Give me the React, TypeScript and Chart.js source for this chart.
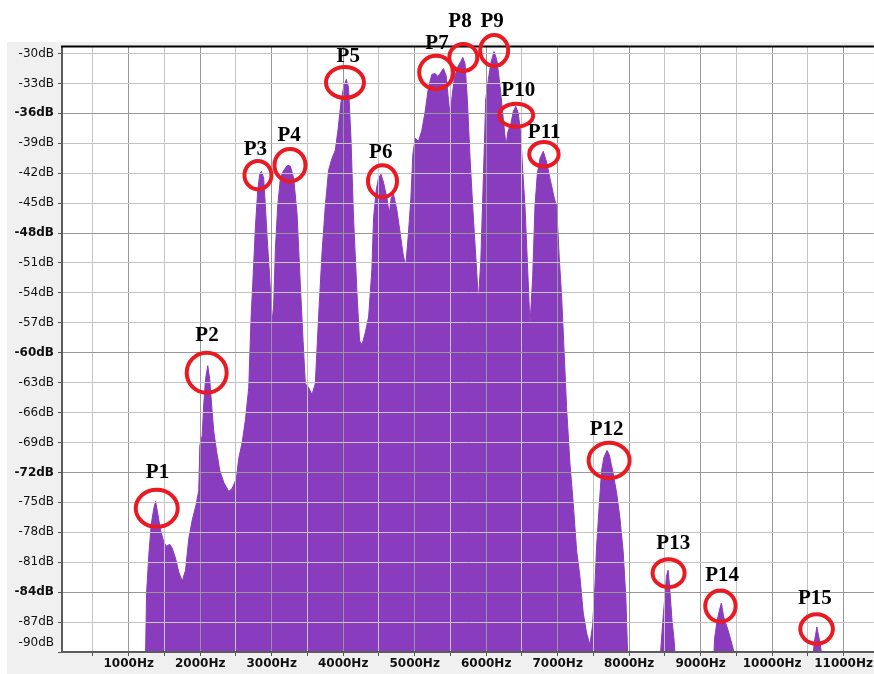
import React, { useEffect, useRef } from 'react';
import { Chart, registerables } from 'chart.js';

Chart.register(...registerables);

// Spectrum trace: frequency (Hz) and level (dB)
const freqHz = [
  1236, 1250, 1282, 1315, 1352, 1376, 1408, 1446, 1492, 1529, 1575, 1609, 1655, 1701, 1749, 1795, 1841, 1888, 1944, 1980,
  1995, 2028, 2050, 2074, 2106, 2134, 2158, 2190, 2228, 2274, 2330, 2400, 2447, 2507, 2539, 2587, 2633, 2679, 2712, 2740,
  2773, 2805, 2833, 2856, 2888, 2912, 2936, 2972, 3006, 3028, 3052, 3084, 3122, 3168, 3224, 3262, 3308, 3355, 3401, 3439,
  3471, 3517, 3564, 3610, 3656, 3704, 3750, 3796, 3844, 3890, 3927, 3969, 4006, 4043, 4075, 4109, 4145, 4193, 4229, 4263,
  4309, 4356, 4402, 4425, 4462, 4494, 4528, 4564, 4612, 4644, 4672, 4704, 4751, 4797, 4844, 4877, 4913, 4947, 4975, 5007,
  5053, 5101, 5147, 5193, 5240, 5286, 5324, 5356, 5402, 5440, 5472, 5496, 5519, 5552, 5598, 5645, 5673, 5704, 5737, 5775,
  5821, 5859, 5891, 5925, 5961, 5994, 6031, 6064, 6110, 6148, 6184, 6218, 6250, 6278, 6302, 6344, 6380, 6414, 6450, 6484,
  6511, 6543, 6576, 6613, 6651, 6683, 6715, 6753, 6799, 6846, 6892, 6953, 6986, 7022, 7056, 7088, 7125, 7172, 7218, 7265,
  7311, 7358, 7405, 7451, 7489, 7521, 7545, 7581, 7615, 7647, 7690, 7721, 7768, 7824, 7870, 7916, 7954, 7978,
  8440, 8455, 8470, 8499, 8522, 8545, 8568, 8600, 8625, 8640,
  9187, 9196, 9229, 9267, 9290, 9323, 9383, 9430, 9466,
  10578, 10590, 10610, 10626, 10645, 10668, 10688,
];

const levelDb = [
  -90, -84.1, -80.2, -77.2, -75.6, -74.9, -76.2, -77.8, -79.0, -79.4, -79.2, -79.6, -80.6, -82.0, -82.9, -81.8, -78.6, -76.8, -75.2, -73.8,
  -69.3, -68.3, -65.1, -62.7, -61.3, -62.7, -65.1, -67.9, -69.8, -71.8, -73.0, -73.9, -73.6, -72.6, -70.6, -69.0, -66.7, -63.5, -56.4, -52.4,
  -47.3, -43.7, -42.1, -41.8, -42.5, -45.3, -48.4, -52.4, -56.9, -55.2, -49.6, -45.3, -42.5, -41.7, -41.2, -41.3, -42.5, -46.1, -53.2, -58.8,
  -63.1, -63.5, -64.2, -63.1, -56.4, -50.0, -45.3, -41.7, -40.5, -39.7, -37.7, -34.9, -33.4, -32.6, -33.4, -38.5, -46.5, -54.0, -58.8, -59.2,
  -58.0, -56.4, -51.6, -46.5, -43.7, -42.5, -42.1, -42.9, -44.5, -46.1, -44.5, -44.1, -45.7, -48.0, -50.4, -51.2, -48.0, -44.5, -40.1, -38.5,
  -38.8, -37.7, -35.8, -33.4, -32.1, -32.0, -32.3, -32.0, -31.5, -32.2, -34.6, -36.3, -34.6, -32.6, -31.4, -30.8, -30.4, -31.0, -34.6, -40.5,
  -46.5, -50.8, -54.8, -50.8, -42.5, -34.6, -32.6, -31.0, -29.8, -30.6, -32.6, -35.0, -37.3, -39.3, -37.9, -37.1, -35.8, -35.3, -36.0, -38.1,
  -41.7, -45.3, -50.8, -57.2, -52.4, -45.3, -42.1, -40.5, -39.8, -40.9, -42.5, -44.5, -45.3, -50.4, -54.4, -59.5, -65.5, -71.1, -75.1, -79.8,
  -82.4, -86.1, -88.1, -89.3, -87.3, -83.4, -79.4, -75.4, -71.8, -70.5, -69.8, -70.2, -71.8, -74.0, -76.5, -79.9, -84.5, -90,
  -90, -88.5, -87, -84.5, -82.4, -81.8, -83.6, -86.9, -88.5, -90,
  -90, -88.6, -86.9, -85.7, -85.1, -86.5, -87.8, -89.0, -90,
  -90, -89, -88.2, -87.5, -88.2, -89, -90,
];

// Axis ticks
const xTickHz = [500, 1000, 1500, 2000, 2500, 3000, 3500, 4000, 4500, 5000, 5500, 6000, 6500, 7000, 7500, 8000, 8500, 9000, 9500, 10000, 10500, 11000];
const yTickDb = [-90, -87, -84, -81, -78, -75, -72, -69, -66, -63, -60, -57, -54, -51, -48, -45, -42, -39, -36, -33, -30];

// Marked peaks: ring centre and tag position, in Hz / dB
const peakNames = ['P1', 'P2', 'P3', 'P4', 'P5', 'P6', 'P7', 'P8', 'P9', 'P10', 'P11', 'P12', 'P13', 'P14', 'P15'];
const peakHz = [1392, 2091, 2808, 3256, 4025, 4550, 5301, 5680, 6112, 6420, 6808, 7720, 8552, 9277, 10622];
const peakDb = [-75.6, -62.0, -42.2, -41.2, -32.9, -42.8, -31.9, -30.4, -29.7, -36.2, -40.1, -70.8, -82.1, -85.4, -87.7];
const tagHz = [1403, 2095, 2773, 3245, 4071, 4526, 5312, 5634, 6084, 6449, 6811, 7685, 8617, 9301, 10599];
const tagDb = [-72.0, -58.3, -39.6, -38.2, -30.3, -39.9, -29.0, -26.8, -26.8, -33.7, -37.9, -67.7, -79.1, -82.3, -84.6];

// Ring radii in pixels
const ringRx = [21, 20, 13.5, 15.5, 19, 14.5, 17, 14, 14, 17, 14.7, 20.5, 16, 15.2, 16.3];
const ringRy = [18.5, 20, 14.2, 16.3, 15.5, 16, 16.7, 13.5, 15.5, 11.5, 12.2, 17.7, 14, 15.5, 14.7];

const FILL = 'rgb(137, 60, 189)';
const RING = 'rgb(234, 26, 34)';
const FONT = 'DejaVu Sans';
const GRID_MAJOR = '#979797';
const GRID_MINOR = '#c4c4c4';

const isMajorDb = (v: number) => (v + 36) % 12 === 0;

const framePlugin = {
  id: 'frame',
  beforeDraw(chart: any) {
    const { ctx, chartArea: a, width, height } = chart;
    ctx.save();
    ctx.fillStyle = '#ffffff';
    ctx.fillRect(0, 0, width, height);
    ctx.fillStyle = '#f0f0f0';
    ctx.fillRect(7, 42, width - 7, height - 42);
    ctx.fillStyle = '#ffffff';
    ctx.fillRect(a.left, a.top, a.right - a.left, a.bottom - a.top);
    ctx.restore();
  },
  afterDraw(chart: any) {
    const { ctx, chartArea: a } = chart;
    const xs = chart.scales.x;
    const ys = chart.scales.y;
    ctx.save();
    // top frame line
    ctx.strokeStyle = '#000';
    ctx.lineWidth = 2;
    ctx.beginPath();
    ctx.moveTo(a.left - 1, a.top);
    ctx.lineTo(a.right, a.top);
    ctx.stroke();

    // bottom-most level label sits just above its tick
    ctx.fillStyle = '#111';
    ctx.font = `12px "${FONT}"`;
    ctx.textAlign = 'right';
    ctx.textBaseline = 'middle';
    ctx.fillText(`${yTickDb[0]}dB`, a.left - 8, ys.getPixelForValue(yTickDb[0]) - 9);

    // peak rings
    ctx.strokeStyle = RING;
    ctx.lineWidth = 4;
    peakNames.forEach((_, i) => {
      const cx = xs.getPixelForValue(peakHz[i]);
      const cy = ys.getPixelForValue(peakDb[i]);
      ctx.beginPath();
      ctx.ellipse(cx, cy, ringRx[i], ringRy[i], 0, 0, Math.PI * 2);
      ctx.stroke();
    });

    // peak tags
    ctx.fillStyle = '#000';
    ctx.font = `bold 21px "Liberation Serif"`;
    ctx.textAlign = 'center';
    ctx.textBaseline = 'middle';
    peakNames.forEach((name, i) => {
      ctx.fillText(name, xs.getPixelForValue(tagHz[i]), ys.getPixelForValue(tagDb[i]));
    });
    ctx.restore();
  },
};

export default function App() {
  const ref = useRef<HTMLCanvasElement>(null);

  useEffect(() => {
    const canvas = ref.current;
    if (!canvas) return;
    const points = freqHz.map((f, i) => ({ x: f, y: levelDb[i] }));
    const chart = new Chart(canvas, {
      type: 'line',
      data: {
        datasets: [
          {
            data: points,
            fill: 'start',
            backgroundColor: FILL,
            borderColor: FILL,
            borderWidth: 1,
            pointRadius: 0,
            tension: 0,
          },
        ],
      },
      options: {
        responsive: false,
        animation: false,
        devicePixelRatio: 1,
        events: [],
        layout: { padding: { left: 0, top: 46.5, right: 0, bottom: 0 } },
        plugins: { legend: { display: false }, tooltip: { enabled: false } },
        scales: {
          x: {
            type: 'linear',
            min: 67,
            max: 11424,
            afterBuildTicks: (s: any) => {
              s.ticks = xTickHz.map((v) => ({ value: v }));
            },
            afterFit: (s: any) => {
              s.height = 22;
            },
            ticks: {
              autoSkip: false,
              maxRotation: 0,
              padding: 1,
              color: '#111',
              font: { family: FONT, size: 12, weight: 'bold' },
              callback: (v: any) => (Number(v) % 1000 === 0 ? `${v}Hz` : ''),
            },
            grid: {
              z: 1,
              color: (c: any) => (c.tick && c.tick.value % 1000 === 0 ? GRID_MAJOR : GRID_MINOR),
              lineWidth: 1,
              tickLength: 4,
              tickColor: '#555',
            },
            border: { z: 2, color: '#5c5c5c', width: 2 },
          },
          y: {
            type: 'linear',
            min: -90,
            max: -29.3,
            afterBuildTicks: (s: any) => {
              s.ticks = yTickDb.map((v) => ({ value: v }));
            },
            afterFit: (s: any) => {
              s.width = 62;
            },
            ticks: {
              autoSkip: false,
              padding: 4,
              color: '#111',
              font: (c: any) => ({
                family: FONT,
                size: 12,
                weight: c.tick && isMajorDb(c.tick.value) ? 'bold' : 'normal',
              }),
              callback: (v: any) => (Number(v) === yTickDb[0] ? '' : `${v}dB`),
            },
            grid: {
              z: 1,
              color: (c: any) => (c.tick && isMajorDb(c.tick.value) ? GRID_MAJOR : GRID_MINOR),
              lineWidth: 1,
              tickLength: 4,
              tickColor: '#555',
            },
            border: { z: 2, color: '#5c5c5c', width: 2 },
          },
        },
      },
      plugins: [framePlugin],
    } as any);
    return () => chart.destroy();
  }, []);

  return (
    <div style={{ position: 'fixed', left: 0, top: 0, width: 874, height: 674, background: '#fff' }}>
      <canvas ref={ref} width={874} height={674} style={{ display: 'block', width: 874, height: 674 }} />
    </div>
  );
}
